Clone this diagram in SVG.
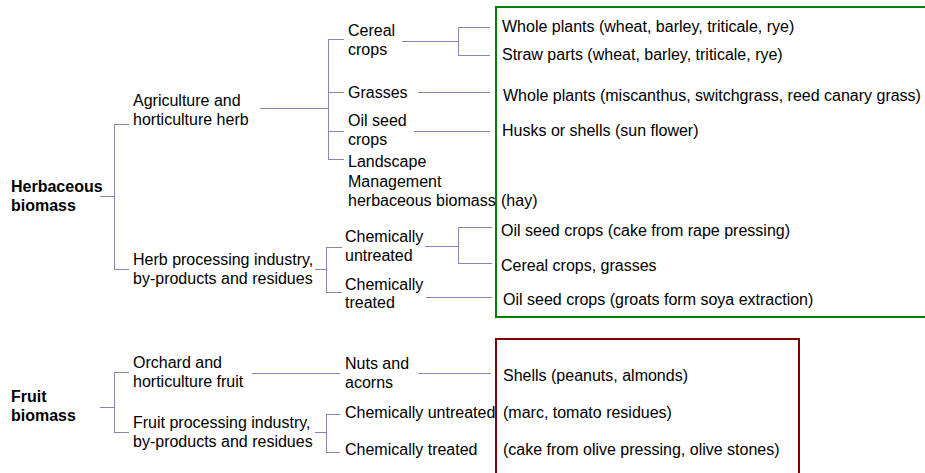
<svg xmlns="http://www.w3.org/2000/svg" width="925" height="473" viewBox="0 0 925 473">
<style>
text{font-family:"Liberation Sans",Arial,sans-serif;font-size:16px;fill:#000}
.b{font-weight:bold}
.c{fill:none;stroke:#8585b5;stroke-width:1}
</style>
<rect width="925" height="473" fill="#fff"/>
<g id="box-herb"><rect x="496" y="7" width="440" height="310" fill="none" stroke="#008000" stroke-width="2"/></g>
<g id="box-fruit"><rect x="496" y="339" width="303" height="150" fill="none" stroke="#800000" stroke-width="2"/></g>
<g id="connectors" class="c">
<path class="c" d="M100 196.5H114.5M114.5 124V270M114.5 124.5H129M114.5 269.5H129"/>
<path class="c" d="M260 108.5H328.5M328.5 39V160M328.5 39.5H344M328.5 92.5H344M328.5 131.5H344M328.5 159.5H344"/>
<path class="c" d="M402 41.5H458.5M458.5 27V56M458.5 27.5H490M458.5 55.5H490"/>
<path class="c" d="M418 92.5H490M414 131.5H490"/>
<path class="c" d="M315 269.5H326.5M326.5 247V293M326.5 247.5H342M326.5 292.5H342"/>
<path class="c" d="M425 246.5H458.5M458.5 227V264M458.5 227.5H492M458.5 263.5H492M426 297.5H492"/>
<path class="c" d="M100 407.5H114.5M114.5 372V433M114.5 372.5H129M114.5 432.5H129"/>
<path class="c" d="M252 373.5H340M418 373.5H491"/>
<path class="c" d="M315 432.5H326.5M326.5 414V453M326.5 414.5H340M326.5 452.5H340"/>
</g>
<g id="herbaceous"><text class="b" x="11" y="192">Herbaceous</text><text class="b" x="11" y="211">biomass</text></g>
<g id="agriculture"><text x="133" y="106">Agriculture and</text><text x="133" y="125">horticulture herb</text></g>
<g id="herb-processing"><text x="133" y="265">Herb processing industry,</text><text x="133" y="284">by-products and residues</text></g>
<g id="cereal"><text x="348" y="36">Cereal</text><text x="348" y="55">crops</text></g>
<g id="grasses"><text x="348" y="98">Grasses</text></g>
<g id="oilseed"><text x="348" y="126">Oil seed</text><text x="348" y="145">crops</text></g>
<g id="landscape"><text x="348" y="167">Landscape</text><text x="348" y="187">Management</text><text x="348" y="206">herbaceous biomass</text></g>
<g id="herb-untreated"><text x="345" y="242">Chemically</text><text x="345" y="261">untreated</text></g>
<g id="herb-treated"><text x="345" y="290">Chemically</text><text x="345" y="308">treated</text></g>
<g id="r1"><text x="502" y="32">Whole plants (wheat, barley, triticale, rye)</text></g>
<g id="r2"><text x="502" y="60">Straw parts (wheat, barley, triticale, rye)</text></g>
<g id="r3"><text x="503" y="101">Whole plants (miscanthus, switchgrass, reed canary grass)</text></g>
<g id="r4"><text x="502" y="136">Husks or shells (sun flower)</text></g>
<g id="r5"><text x="501" y="206">(hay)</text></g>
<g id="r6"><text x="501" y="236">Oil seed crops (cake from rape pressing)</text></g>
<g id="r7"><text x="501" y="271">Cereal crops, grasses</text></g>
<g id="r8"><text x="503" y="305">Oil seed crops (groats form soya extraction)</text></g>
<g id="fruit"><text class="b" x="11" y="402">Fruit</text><text class="b" x="11" y="421">biomass</text></g>
<g id="orchard"><text x="133" y="368">Orchard and</text><text x="133" y="387">horticulture fruit</text></g>
<g id="fruit-processing"><text x="133" y="428">Fruit processing industry,</text><text x="133" y="447">by-products and residues</text></g>
<g id="nuts"><text x="345" y="369">Nuts and</text><text x="345" y="388">acorns</text></g>
<g id="fruit-untreated"><text x="345" y="418">Chemically untreated</text></g>
<g id="fruit-treated"><text x="345" y="455">Chemically treated</text></g>
<g id="f1"><text x="503" y="381">Shells (peanuts, almonds)</text></g>
<g id="f2"><text x="503" y="418">(marc, tomato residues)</text></g>
<g id="f3"><text x="503" y="455">(cake from olive pressing, olive stones)</text></g>
</svg>
